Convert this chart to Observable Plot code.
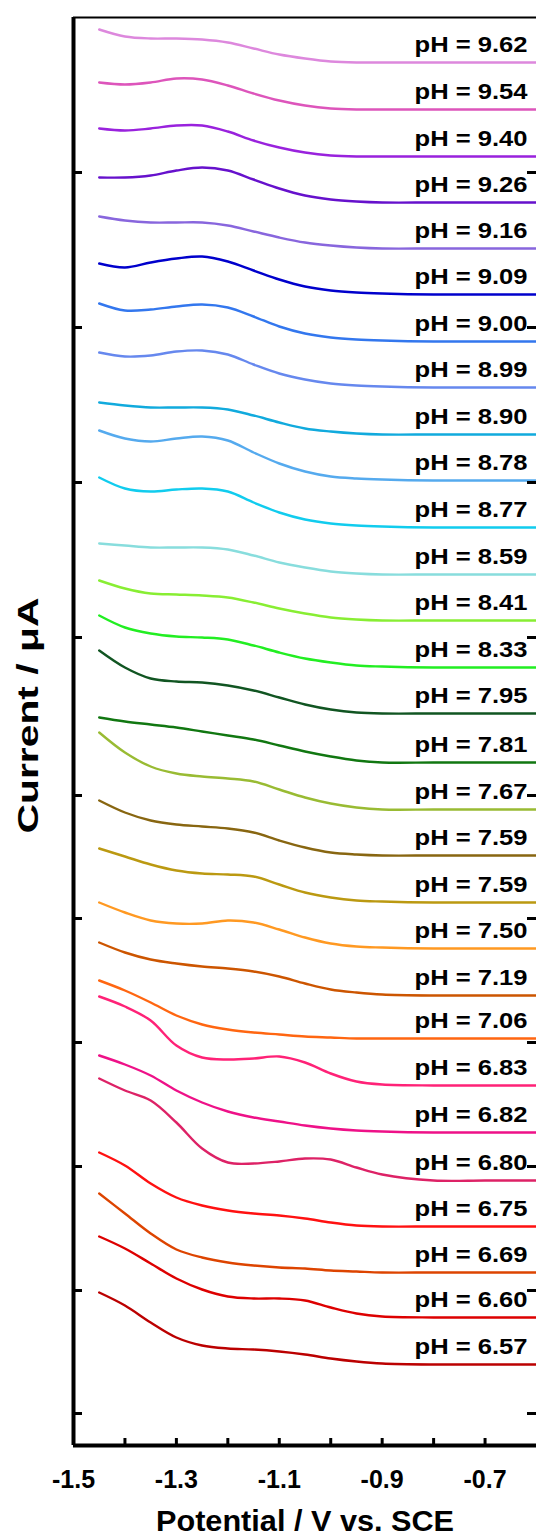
<!DOCTYPE html>
<html>
<head>
<meta charset="utf-8">
<script src="https://cdn.jsdelivr.net/npm/d3@7"></script>
<script src="https://cdn.jsdelivr.net/npm/@observablehq/plot@0.6"></script>
<style>
  html, body { margin: 0; padding: 0; background: #fff; overflow: hidden; }
</style>
</head>
<body>
<div id="chart"></div>
<script>
// Potential grid (V vs. SCE)
const potentials = [-1.45,-1.40,-1.35,-1.30,-1.25,-1.20,-1.15,-1.10,-1.05,-1.00,-0.95,-0.90,-0.80,-0.70,-0.60];

// pH labels, top to bottom
const phLabels = ["9.62","9.54","9.40","9.26","9.16","9.09","9.00","8.99","8.90","8.78","8.77","8.59","8.41","8.33",
  "7.95","7.81","7.67","7.59","7.59","7.50","7.19","7.06","6.83","6.82","6.80","6.75","6.69","6.60","6.57"];

const colors = ["#dd88dd","#dd55bb","#9922dd","#6611cc","#8866dd","#0000cc","#3377ee","#6688ee","#11aadd","#55aaee",
  "#11ccee","#88dddd","#88ee33","#22ee22","#115522","#117711","#99bb33","#886611","#bb9911","#ff9922",
  "#cc5500","#ff6611","#ff2277","#ee1188","#dd2266","#ff1111","#dd4400","#dd0000","#bb0000"];

// Current (offset, arbitrary µA units) for each curve, one row per pH
const currents = [
  [141.6,140.9,140.7,140.7,140.6,140.3,139.7,139.1,138.7,138.4,138.3,138.3,138.3,138.3,138.3],
  [136.3,136.1,136.3,136.7,136.6,136.0,135.2,134.5,134.0,133.7,133.6,133.6,133.6,133.6,133.6],
  [131.7,131.5,131.7,132.0,132.0,131.4,130.5,129.8,129.3,129.0,128.9,128.9,128.9,128.9,128.9],
  [126.8,126.8,127.0,127.5,127.8,127.5,126.6,125.7,125.0,124.6,124.4,124.3,124.3,124.3,124.3],
  [122.9,122.5,122.3,122.3,122.3,122.0,121.4,120.8,120.3,120.0,119.8,119.7,119.7,119.7,119.7],
  [118.2,117.8,118.3,118.7,118.9,118.4,117.5,116.6,115.9,115.5,115.3,115.2,115.1,115.1,115.1],
  [114.2,113.5,113.6,113.9,114.1,113.8,112.9,111.9,111.2,110.8,110.6,110.5,110.4,110.4,110.4],
  [109.3,108.9,109.0,109.4,109.5,109.1,108.1,107.2,106.6,106.2,106.0,105.9,105.8,105.8,105.8],
  [104.3,104.0,103.8,103.8,103.8,103.6,103.0,102.3,101.7,101.4,101.2,101.1,101.1,101.1,101.1],
  [101.5,100.7,100.4,100.7,100.9,100.5,99.3,98.2,97.4,96.9,96.7,96.6,96.5,96.5,96.5],
  [96.8,95.7,95.4,95.6,95.7,95.4,94.3,93.3,92.6,92.2,92.0,91.9,91.8,91.8,91.8],
  [90.2,90.0,89.8,89.8,89.8,89.6,89.0,88.3,87.8,87.4,87.2,87.1,87.1,87.1,87.1],
  [86.5,85.7,85.2,85.1,85.0,84.8,84.3,83.7,83.2,82.8,82.6,82.5,82.5,82.5,82.5],
  [83.0,81.8,81.2,80.9,80.8,80.6,80.0,79.3,78.7,78.3,78.0,77.9,77.8,77.8,77.8],
  [79.5,77.8,76.7,76.4,76.3,76.0,75.5,74.8,74.1,73.6,73.3,73.2,73.2,73.2,73.2],
  [72.8,72.4,72.1,71.8,71.4,71.0,70.6,70.0,69.4,68.9,68.5,68.3,68.3,68.3,68.3],
  [71.3,69.3,67.9,67.2,66.9,66.7,66.4,65.6,64.8,64.2,63.8,63.6,63.6,63.6,63.6],
  [64.5,63.3,62.5,62.1,61.9,61.7,61.3,60.5,59.8,59.3,59.1,59.0,59.0,59.0,59.0],
  [59.7,58.9,58.1,57.5,57.2,57.1,56.9,56.1,55.3,54.8,54.5,54.4,54.3,54.3,54.3],
  [54.3,53.3,52.5,52.2,52.2,52.5,52.3,51.6,50.8,50.2,49.9,49.8,49.7,49.7,49.7],
  [50.3,49.3,48.6,48.2,47.9,47.7,47.4,46.9,46.2,45.6,45.3,45.1,45.0,45.0,45.0],
  [46.5,45.5,44.3,43.0,42.1,41.6,41.3,41.1,40.9,40.8,40.7,40.7,40.7,40.7,40.7],
  [44.9,43.9,42.5,40.0,38.8,38.6,38.7,38.9,38.3,37.2,36.4,36.1,36.0,36.0,36.0],
  [39.0,38.1,37.0,35.5,34.3,33.4,32.8,32.4,32.0,31.7,31.5,31.4,31.3,31.3,31.3],
  [36.7,35.5,34.5,32.3,29.7,28.3,28.2,28.4,28.7,28.6,27.8,27.1,26.5,26.5,26.5],
  [29.3,28.0,26.2,24.8,24.0,23.5,23.2,23.0,22.7,22.3,22.0,21.9,21.9,21.9,21.9],
  [25.2,23.2,21.2,19.6,18.8,18.3,18.0,17.8,17.7,17.5,17.4,17.3,17.3,17.3,17.3],
  [20.9,19.7,18.2,16.7,15.6,14.9,14.7,14.7,14.5,13.8,13.2,12.9,12.8,12.8,12.8],
  [15.3,14.0,12.3,10.8,10.0,9.7,9.6,9.4,9.1,8.7,8.4,8.2,8.1,8.1,8.1]
];

const xTickLabels = [-1.5, -1.3, -1.1, -0.9, -0.7];
const xMinorTicks = [-1.4, -1.3, -1.2, -1.1, -1.0, -0.9, -0.8, -0.7];
const yTicks = [127.3, 111.8, 96.3, 80.8, 65.0, 52.7, 40.3, 27.9, 15.5, 3.2];

const xDomain = [-1.5, -0.6];
const yDomain = [0, 142.8];

// Build tidy rows
const rows = [];
currents.forEach((vals, i) => {
  vals.forEach((v, j) => rows.push({curve: i, potential: potentials[j], current: v}));
});
const ends = currents.map((vals, i) => ({curve: i, label: "pH = " + phLabels[i], current: vals[vals.length - 1]}));

const tickLenX = 0.9 * 9 / 463; // ~9px in V units
const font = "'Liberation Sans', Arial, Helvetica, sans-serif";

const chart = Plot.plot({
  width: 536,
  height: 1539,
  marginLeft: 73,
  marginRight: 0,
  marginTop: 17,
  marginBottom: 94,
  style: {fontFamily: font, background: "#fff", overflow: "visible"},
  x: {domain: xDomain, axis: null},
  y: {domain: yDomain, axis: null},
  marks: [
    Plot.line(rows, {x: "potential", y: "current", z: "curve", stroke: d => colors[d.curve], strokeWidth: 2.4, curve: "catmull-rom"}),
    Plot.text(ends, {x: xDomain[1], y: "current", text: "label", textAnchor: "end", dx: -9, dy: -18,
      fontSize: 22, fontWeight: "bold", fill: "#000", className: "phlab"}),
    // frame
    Plot.ruleX([xDomain[0]], {stroke: "#000", strokeWidth: 4}),
    Plot.ruleY([yDomain[0]], {stroke: "#000", strokeWidth: 4, x1: xDomain[0], x2: xDomain[1]}),
    Plot.ruleY([yDomain[1]], {stroke: "#000", strokeWidth: 2, x1: xDomain[0], x2: xDomain[1]}),
    // left ticks
    Plot.ruleY(yTicks, {x1: xDomain[0], x2: xDomain[0] + tickLenX, stroke: "#000", strokeWidth: 3}),
    // right ticks
    Plot.ruleY(yTicks, {x1: xDomain[1] - tickLenX, x2: xDomain[1], stroke: "#000", strokeWidth: 3}),
    // bottom ticks
    Plot.ruleX(xMinorTicks, {y1: 0, y2: 0.7, stroke: "#000", strokeWidth: 3}),
    // x tick labels
    Plot.axisX(xTickLabels, {tickSize: 0, tickPadding: 25, fontSize: 25, fontWeight: "bold", tickFormat: d => d.toFixed(1), label: null}),
    Plot.text(["Potential / V vs. SCE"], {frameAnchor: "bottom", dy: 85, fontSize: 29, fontWeight: "bold", fill: "#000", className: "xlab"}),
    Plot.text(["Current / \u03bcA"], {frameAnchor: "left", textAnchor: "middle", rotate: -90, dx: -45, dy: -16, fontSize: 30, fontWeight: "bold", fill: "#000", className: "ylab"})
  ]
});
chart.querySelectorAll("text").forEach(t => t.setAttribute("fill", "#000"));
function stretch(sel, len) {
  chart.querySelectorAll(sel).forEach(t => {
    t.setAttribute("textLength", len);
    t.setAttribute("lengthAdjust", "spacingAndGlyphs");
  });
}
stretch(".phlab text", 113);
stretch(".xlab text", 298);
stretch(".ylab text", 236);
document.getElementById("chart").appendChild(chart);
</script>
</body>
</html>
